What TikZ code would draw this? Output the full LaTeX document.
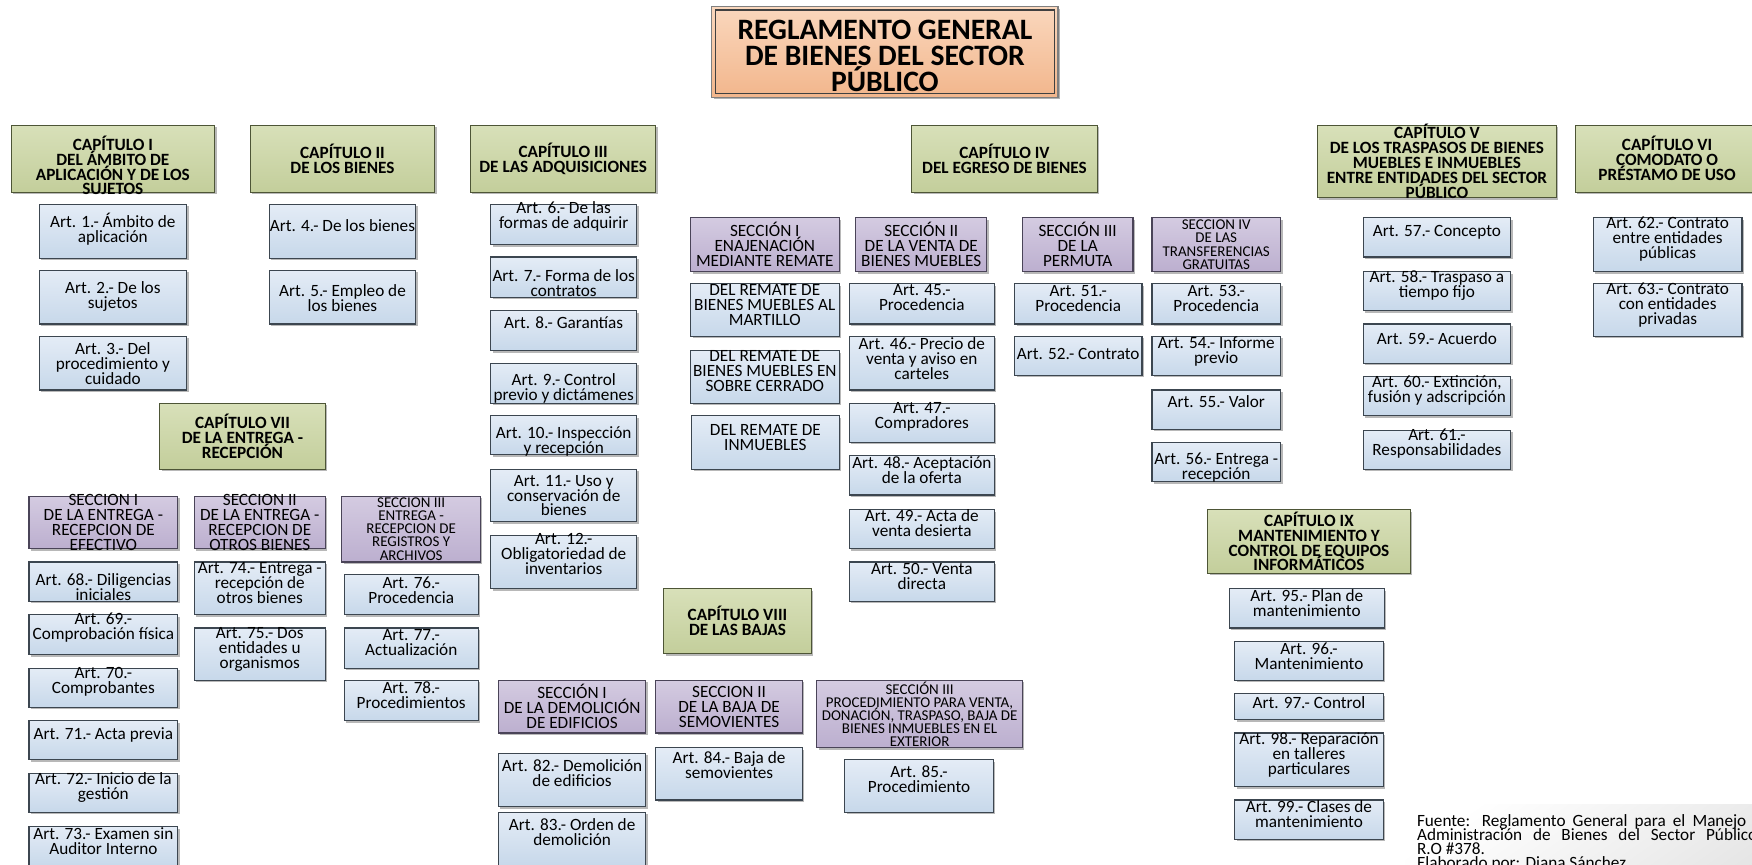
\documentclass[tikz,border=0pt]{standalone}
\usepackage{fontspec}
\setmainfont{Carlito}
\usetikzlibrary{shadows}

\definecolor{linkc}{HTML}{3F3F3F}
\definecolor{capA}{HTML}{D8E0B9}
\definecolor{capB}{HTML}{C3CE9B}
\definecolor{capline}{HTML}{4D5536}
\definecolor{secA}{HTML}{D4CBE1}
\definecolor{secB}{HTML}{BCAFCF}
\definecolor{secline}{HTML}{4A4458}
\definecolor{artA}{HTML}{E4ECF6}
\definecolor{artB}{HTML}{C7D8EA}
\definecolor{artline}{HTML}{3C4650}
\definecolor{ttlA}{HTML}{FAD7BD}
\definecolor{ttlB}{HTML}{F2B68C}
\definecolor{ttlout}{HTML}{7F7F7F}
\definecolor{ttlin}{HTML}{404040}

\pgfdeclarelayer{links}
\pgfsetlayers{links,main}

\newcommand\tightlines{\lineskiplimit=-100pt\relax}
\newcommand\boxfont{\fontsize{15.4}{13.4}\selectfont\tightlines}
\newcommand\smallboxfont{\fontsize{13.4}{11.7}\selectfont\tightlines}

% [text lift] {box style} {name} {x1} {y1} {x2} {y2} {text}
\newcommand\chartbox[8][0]{%
  \node[#2, minimum width={(#6-#4)*1pt}, minimum height={(#7-#5)*1pt}]
    (#3) at ({(#4+#6)/2},{(#5+#7)/2}) {};
  \node[txt#2] (#3-t) at ([yshift=#1pt]#3.center) {#8};
}
\newcommand\vlink[2]{\draw[conn] (#1.south) -- (#1.south |- #2.north);}

\tikzset{
  conn/.style={draw=linkc, line width=1.6pt},
  mainbar/.style={draw=linkc, line width=2pt},
  boxbase/.style={draw=#1, line width=1pt, inner sep=0pt, outer sep=0pt,
    drop shadow={shadow xshift=1.8pt, shadow yshift=-1.8pt, opacity=0.28, fill=black}},
  chapbox/.style={boxbase=capline, top color=capA, bottom color=capB},
  sectbox/.style={boxbase=secline, top color=secA, bottom color=secB},
  sectsbox/.style={sectbox},
  artbox/.style={boxbase=artline, top color=artA, bottom color=artB},
  txtbase/.style={align=center, inner sep=0pt, text=black},
  txtchapbox/.style={txtbase, font=\bfseries\boxfont},
  txtsectbox/.style={txtbase, font=\boxfont},
  txtsectsbox/.style={txtbase, font=\smallboxfont},
  txtartbox/.style={txtbase, font=\boxfont},
  txttitle/.style={txtbase, font=\bfseries\fontsize{26.5}{23.5}\selectfont\tightlines},
  foot/.style={align=left, inner sep=0pt, font=\fontsize{15.4}{12.7}\selectfont\tightlines},
}

\begin{document}
\begin{tikzpicture}[x=1pt, y=-1pt]
\useasboundingbox (0,0) rectangle (1568,774);
\fill[white] (0,0) rectangle (1568,774);
\clip (0,0) rectangle (1568,774);

% source note backdrop
\shade[top color=white, bottom color=black!10, shading angle=35] (1258,720) rectangle (1590,800);

% title
\node[top color=ttlA, bottom color=ttlB, draw=ttlout, line width=1.2pt, inner sep=0pt, outer sep=0pt,
      minimum width=310pt, minimum height=81pt,
      drop shadow={shadow xshift=2pt, shadow yshift=-2pt, opacity=0.3, fill=black}]
  (title) at (792,46.5) {};
\draw[ttlin, line width=1pt] ([shift={(3pt,3pt)}]title.south west) rectangle ([shift={(-3pt,-3pt)}]title.north east);
\node[txttitle] (title-t) at ([yshift=-3.5pt]title.center) {REGLAMENTO GENERAL\\DE BIENES DEL SECTOR\\PÚBLICO};

% chapters
\chartbox[-6]{chapbox}{cap1}{10}{112}{192}{172}{CAPÍTULO I\\DEL ÁMBITO DE\\APLICACIÓN Y DE LOS\\SUJETOS}
\chartbox{chapbox}{cap2}{224}{112}{389}{172}{CAPÍTULO II\\DE LOS BIENES}
\chartbox{chapbox}{cap3}{421}{112}{587}{172}{CAPÍTULO III\\DE LAS ADQUISICIONES}
\chartbox{chapbox}{cap4}{816}{112}{982}{172}{CAPÍTULO IV\\DEL EGRESO DE BIENES}
\chartbox{chapbox}{cap5}{1179}{112}{1393}{177}{CAPÍTULO V\\DE LOS TRASPASOS DE BIENES\\MUEBLES E INMUEBLES\\ENTRE ENTIDADES DEL SECTOR\\PÚBLICO}
\chartbox{chapbox}{cap6}{1410}{112}{1574}{172}{CAPÍTULO VI\\COMODATO O\\PRÉSTAMO DE USO}
\chartbox{chapbox}{cap7}{143}{361}{291}{420}{CAPÍTULO VII\\DE LA ENTREGA -\\RECEPCIÓN}
\chartbox{chapbox}{cap8}{594}{527}{726}{585}{CAPÍTULO VIII\\DE LAS BAJAS}
\chartbox{chapbox}{cap9}{1081}{456}{1262}{513}{CAPÍTULO IX\\MANTENIMIENTO Y\\CONTROL DE EQUIPOS\\INFORMÁTICOS}

% chapter I
\chartbox[1.5]{artbox}{a1}{35}{183}{167}{231}{Art. 1.- Ámbito de\\aplicación}
\chartbox[0.5]{artbox}{a2}{35}{242}{167}{290}{Art. 2.- De los\\sujetos}
\chartbox{artbox}{a3}{35}{301}{167}{349}{Art. 3.- Del\\procedimiento y\\cuidado}
% chapter II
\chartbox[5]{artbox}{a4}{241}{183}{372}{231}{Art. 4.- De los bienes}
\chartbox[-1]{artbox}{a5}{241}{242}{372}{290}{Art. 5.- Empleo de\\los bienes}
% chapter III
\chartbox[7.5]{artbox}{a6}{439}{183}{570}{219}{Art. 6.- De las\\formas de adquirir}
\chartbox[-5]{artbox}{a7}{439}{230}{570}{266}{Art. 7.- Forma de los\\contratos}
\chartbox[7]{artbox}{a8}{439}{278}{570}{314}{Art. 8.- Garantías}
\chartbox[-5]{artbox}{a9}{439}{325}{570}{361}{Art. 9.- Control\\previo y dictámenes}
\chartbox[-5.5]{artbox}{a10}{439}{372}{570}{407}{Art. 10.- Inspección\\y recepción}
\chartbox{artbox}{a11}{439}{420}{570}{467}{Art. 11.- Uso y\\conservación de\\bienes}
\chartbox[7]{artbox}{a12}{439}{479}{570}{527}{Art. 12.-\\Obligatoriedad de\\inventarios}

% chapter IV
\chartbox{sectbox}{s41}{618}{195}{751}{243}{SECCIÓN I\\ENAJENACIÓN\\MEDIANTE REMATE}
\chartbox{sectbox}{s42}{766}{195}{883}{243}{SECCIÓN II\\DE LA VENTA DE\\BIENES MUEBLES}
\chartbox{sectbox}{s43}{915}{195}{1014}{243}{SECCIÓN III\\DE LA\\PERMUTA}
\chartbox{sectsbox}{s44}{1031}{195}{1146}{243}{SECCION IV\\DE LAS\\TRANSFERENCIAS\\GRATUITAS}
\chartbox[4.5]{artbox}{r1}{618}{254}{751}{301}{DEL REMATE DE\\BIENES MUEBLES AL\\MARTILLO}
\chartbox[5.5]{artbox}{r2}{618}{314}{751}{361}{DEL REMATE DE\\BIENES MUEBLES EN\\SOBRE CERRADO}
\chartbox[4.5]{artbox}{r3}{619}{372}{751}{420}{DEL REMATE DE\\INMUEBLES}
\chartbox[6]{artbox}{a45}{760}{254}{890}{290}{Art. 45.-\\Procedencia}
\chartbox[4.5]{artbox}{a46}{760}{301}{890}{349}{Art. 46.- Precio de\\venta y aviso en\\carteles}
\chartbox[5]{artbox}{a47}{760}{361}{890}{396}{Art. 47.-\\Compradores}
\chartbox[4.5]{artbox}{a48}{760}{408}{890}{443}{Art. 48.- Aceptación\\de la oferta}
\chartbox[5]{artbox}{a49}{760}{456}{890}{491}{Art. 49.- Acta de\\venta desierta}
\chartbox[4.5]{artbox}{a50}{760}{503}{890}{538}{Art. 50.- Venta\\directa}
\chartbox[4.5]{artbox}{a51}{908}{254}{1022}{290}{Art. 51.-\\Procedencia}
\chartbox[1.5]{artbox}{a52}{908}{301}{1022}{336}{Art. 52.- Contrato}
\chartbox[4.5]{artbox}{a53}{1031}{254}{1146}{290}{Art. 53.-\\Procedencia}
\chartbox[4]{artbox}{a54}{1031}{301}{1146}{336}{Art. 54.- Informe\\previo}
\chartbox[7]{artbox}{a55}{1031}{349}{1146}{384}{Art. 55.- Valor}
\chartbox[-5]{artbox}{a56}{1031}{396}{1146}{431}{Art. 56.- Entrega -\\recepción}

% chapter V
\chartbox[4.5]{artbox}{a57}{1220}{195}{1352}{230}{Art. 57.- Concepto}
\chartbox[5]{artbox}{a58}{1220}{243}{1352}{278}{Art. 58.- Traspaso a\\tiempo fijo}
\chartbox[4.5]{artbox}{a59}{1220}{290}{1352}{325}{Art. 59.- Acuerdo}
\chartbox[5]{artbox}{a60}{1220}{337}{1352}{372}{Art. 60.- Extinción,\\fusión y adscripción}
\chartbox[5.5]{artbox}{a61}{1220}{385}{1352}{420}{Art. 61.-\\Responsabilidades}

% chapter VI
\chartbox[5]{artbox}{a62}{1426}{195}{1559}{243}{Art. 62.- Contrato\\entre entidades\\públicas}
\chartbox[4.5]{artbox}{a63}{1426}{254}{1559}{301}{Art. 63.- Contrato\\con entidades\\privadas}

% chapter VII
\chartbox{sectbox}{s71}{26}{444}{159}{491}{SECCION I\\DE LA ENTREGA -\\RECEPCION DE\\EFECTIVO}
\chartbox{sectbox}{s72}{174}{444}{291}{491}{SECCION II\\DE LA ENTREGA -\\RECEPCION DE\\OTROS BIENES}
\chartbox{sectsbox}{s73}{306}{444}{430}{503}{SECCION III\\ENTREGA -\\RECEPCION DE\\REGISTROS Y\\ARCHIVOS}
\chartbox[-4.5]{artbox}{a68}{26}{503}{159}{538}{Art. 68.- Diligencias\\iniciales}
\chartbox[6]{artbox}{a69}{26}{550}{159}{586}{Art. 69.-\\Comprobación física}
\chartbox[5.5]{artbox}{a70}{26}{598}{159}{633}{Art. 70.-\\Comprobantes}
\chartbox[4.5]{artbox}{a71}{26}{645}{159}{680}{Art. 71.- Acta previa}
\chartbox[4.5]{artbox}{a72}{26}{692}{159}{727}{Art. 72.- Inicio de la\\gestión}
\chartbox[5]{artbox}{a73}{26}{740}{159}{776}{Art. 73.- Examen sin\\Auditor Interno}
\chartbox[4.5]{artbox}{a74}{174}{503}{291}{550}{Art. 74.- Entrega -\\recepción de\\otros bienes}
\chartbox[4.5]{artbox}{a75}{174}{562}{291}{609}{Art. 75.- Dos\\entidades u\\organismos}
\chartbox[4]{artbox}{a76}{308}{514}{428}{550}{Art. 76.-\\Procedencia}
\chartbox[5]{artbox}{a77}{308}{562}{428}{598}{Art. 77.-\\Actualización}
\chartbox[4.5]{artbox}{a78}{308}{609}{428}{645}{Art. 78.-\\Procedimientos}

% chapter VIII
\chartbox{sectbox}{s81}{446}{609}{578}{656}{SECCIÓN I\\DE LA DEMOLICIÓN\\DE EDIFICIOS}
\chartbox{sectbox}{s82}{587}{609}{718}{656}{SECCION II\\DE LA BAJA DE\\SEMOVIENTES}
\chartbox{sectsbox}{s83}{731}{609}{915}{669}{SECCIÓN III\\PROCEDIMIENTO PARA VENTA,\\DONACIÓN, TRASPASO, BAJA DE\\BIENES INMUEBLES EN EL\\EXTERIOR}
\chartbox[6.5]{artbox}{a82}{446}{674}{578}{722}{Art. 82.- Demolición\\de edificios}
\chartbox[6]{artbox}{a83}{446}{727}{578}{775}{Art. 83.- Orden de\\demolición}
\chartbox[7.5]{artbox}{a84}{587}{669}{718}{716}{Art. 84.- Baja de\\semovientes}
\chartbox[6]{artbox}{a85}{756}{680}{889}{727}{Art. 85.-\\Procedimiento}

% chapter IX
\chartbox[4.5]{artbox}{a95}{1100}{527}{1239}{562}{Art. 95.- Plan de\\mantenimiento}
\chartbox[4.5]{artbox}{a96}{1105}{574}{1238}{609}{Art. 96.-\\Mantenimiento}
\chartbox[4]{artbox}{a97}{1105}{621}{1238}{644}{Art. 97.- Control}
\chartbox[4.5]{artbox}{a98}{1105}{656}{1238}{704}{Art. 98.- Reparación\\en talleres\\particulares}
\chartbox[5]{artbox}{a99}{1105}{716}{1238}{751}{Art. 99.- Clases de\\mantenimiento}

% source note
\node[foot, anchor=north west] (src) at (1268,728.5)
  {\makebox[308pt][s]{Fuente: Reglamento General para el Manejo y}\\
   \makebox[308pt][s]{Administración de Bienes del Sector Público,}\\
   R.O \#378.\\
   Elaborado por: Diana Sánchez};

% connectors
\begin{pgfonlayer}{links}
  \coordinate (hub) at (792,101);
  \coordinate (elbow) at (603,500);
  \coordinate (bus4) at (899,183.5);
  \coordinate (bus7) at (217,431.5);
  \coordinate (bus8) at (660,600);
  \draw[mainbar] (title.south) -- (hub);
  \foreach \c in {cap1,cap2,cap3,cap4,cap5,cap6,cap7,cap9}
    \draw[mainbar] (\c.north) |- (hub);
  \draw[mainbar] (cap8.north) |- (elbow) |- (hub);

  \draw[conn] (cap4.south) -- (bus4);
  \foreach \s in {s41,s42,s43,s44} \draw[conn] (\s.north) |- (bus4);
  \draw[conn] (cap7.south) -- (bus7);
  \foreach \s in {s71,s72,s73} \draw[conn] (\s.north) |- (bus7);
  \draw[conn] (cap8.south) -- (bus8);
  \foreach \s in {s81,s82,s83} \draw[conn] (\s.north) |- (bus8);

  \vlink{cap1}{a1} \vlink{a1}{a2} \vlink{a2}{a3}
  \vlink{cap2}{a4} \vlink{a4}{a5}
  \vlink{cap3}{a6} \vlink{a6}{a7} \vlink{a7}{a8} \vlink{a8}{a9}
  \vlink{a9}{a10} \vlink{a10}{a11} \vlink{a11}{a12}
  \vlink{s41}{r1} \vlink{r1}{r2} \vlink{r2}{r3}
  \vlink{s42}{a45} \vlink{a45}{a46} \vlink{a46}{a47} \vlink{a47}{a48}
  \vlink{a48}{a49} \vlink{a49}{a50}
  \vlink{s43}{a51} \vlink{a51}{a52}
  \vlink{s44}{a53} \vlink{a53}{a54} \vlink{a54}{a55} \vlink{a55}{a56}
  \vlink{cap5}{a57} \vlink{a57}{a58} \vlink{a58}{a59} \vlink{a59}{a60} \vlink{a60}{a61}
  \vlink{cap6}{a62} \vlink{a62}{a63}
  \vlink{s71}{a68} \vlink{a68}{a69} \vlink{a69}{a70} \vlink{a70}{a71}
  \vlink{a71}{a72} \vlink{a72}{a73}
  \vlink{s72}{a74} \vlink{a74}{a75}
  \vlink{s73}{a76} \vlink{a76}{a77} \vlink{a77}{a78}
  \vlink{s81}{a82} \vlink{a82}{a83}
  \vlink{s82}{a84}
  \vlink{s83}{a85}
  \vlink{cap9}{a95} \vlink{a95}{a96} \vlink{a96}{a97} \vlink{a97}{a98} \vlink{a98}{a99}
\end{pgfonlayer}
\end{tikzpicture}
\end{document}
